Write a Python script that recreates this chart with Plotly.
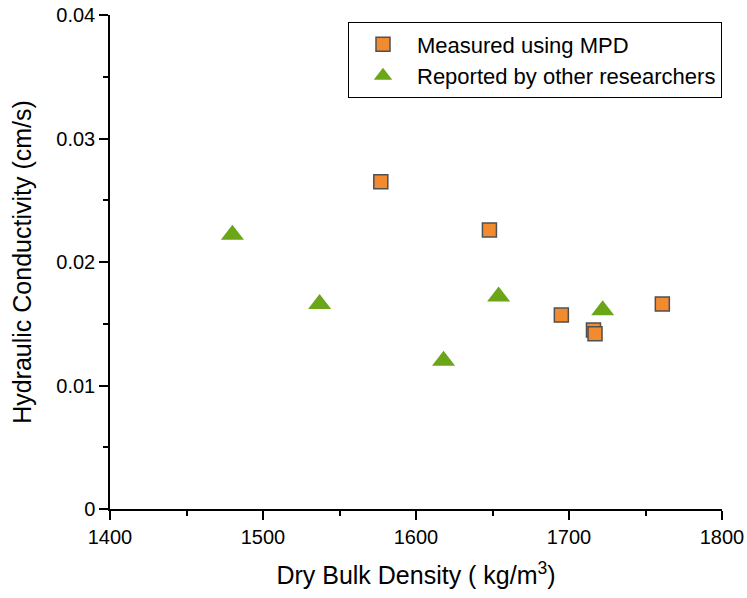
import plotly.graph_objects as go

mpd_density = [1577, 1648, 1695, 1716, 1717, 1761]
mpd_k = [0.0265, 0.0226, 0.0157, 0.0145, 0.0142, 0.0166]

other_density = [1480, 1537, 1618, 1654, 1722]
other_k = [0.0222, 0.0166, 0.0120, 0.0172, 0.0161]

fig = go.Figure()
fig.add_trace(go.Scatter(
    x=mpd_density, y=mpd_k, mode="markers", name="Measured using MPD",
    marker=dict(symbol="square", size=14, color="#F28A30",
                line=dict(color="#505050", width=1.5)),
))
fig.add_trace(go.Scatter(
    x=other_density, y=other_k, mode="markers", name="Reported by other researchers",
    marker=dict(symbol="triangle-up", size=20, color="#6AA617",
                line=dict(width=0)),
))

font = "Liberation Sans, Arial, sans-serif"
fig.update_layout(
    width=747, height=598,
    margin=dict(l=110, r=25, t=15, b=89, autoexpand=False),
    plot_bgcolor="white", paper_bgcolor="white",
    font=dict(family=font, color="black", size=19),
    showlegend=True,
    legend=dict(x=1, y=0.985, xanchor="right", yanchor="top",
                bordercolor="black", borderwidth=1, bgcolor="white",
                font=dict(size=22, family=font), itemwidth=58,
                tracegroupgap=0),
)
fig.update_xaxes(
    range=[1400, 1800], dtick=100, tick0=1400, automargin=False,
    showline=True, linecolor="black", linewidth=1.5,
    ticks="outside", ticklen=9, tickwidth=1.5, tickcolor="black",
    minor=dict(ticks="outside", ticklen=5, dtick=50, tickcolor="black", tickwidth=1.5),
    showgrid=False, zeroline=False,
    title=dict(text="Dry Bulk Density ( kg/m<sup>3</sup>)", font=dict(size=25), standoff=20),
    tickfont=dict(size=20),
)
fig.update_yaxes(
    range=[0, 0.04], dtick=0.01, tick0=0, automargin=False,
    showline=True, linecolor="black", linewidth=1.5,
    ticks="outside", ticklen=9, tickwidth=1.5, tickcolor="black",
    minor=dict(ticks="outside", ticklen=5, dtick=0.005, tickcolor="black", tickwidth=1.5),
    showgrid=False, zeroline=False,
    title=dict(text="Hydraulic Conductivity (cm/s)", font=dict(size=25), standoff=18),
    tickfont=dict(size=20),
)

fig.write_html("out.html")
